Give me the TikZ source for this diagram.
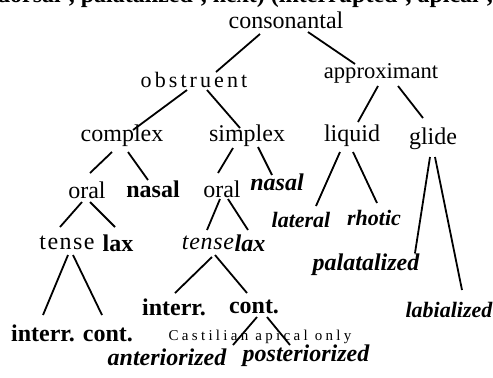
\documentclass[tikz,border=0pt]{standalone}
\usepackage{fontspec}
\setmainfont{Liberation Serif}
\usetikzlibrary{calc}
\begin{document}
\begin{tikzpicture}[x=0.5pt,y=-0.5pt,line width=0.9pt,
  every node/.style={inner sep=0pt,font=\fontsize{12}{14}\selectfont},
  feat/.style={},
  bfeat/.style={font=\fontsize{12}{14}\selectfont\bfseries},
  bifeat/.style={font=\fontsize{12}{14}\selectfont\bfseries\itshape},
  spaced/.style={font=\fontsize{11}{13}\selectfont\addfontfeature{LetterSpace=14}}]
\useasboundingbox (0,0) rectangle (493,377);
% cut-off line above the tree
\begin{scope}
\clip (0,0) rectangle (493,377);
\node[anchor=base west,font=\fontsize{12}{14}\selectfont\bfseries] (cut) at (-4,2) {dorsal', palatalized', next) (interrupted', apical', co};
\end{scope}
% upper levels
\node[feat] (cons) at (286,20) {consonantal};
\node[spaced] (obs) at (194,80) {obstruent};
\node[feat,font=\fontsize{11.3}{13}\selectfont] (appr) at (381,73) {approximant};
\node[feat] (cplx) at (122,136) {complex};
\node[feat] (splx) at (247,136) {simplex};
\node[feat] (liq) at (352,136) {liquid};
\node[feat] (glide) at (433,139) {glide};
% complex branch
\node[feat] (oralA) at (87,190) {oral};
\node[bfeat] (nasA) at (153,189) {nasal};
\node[feat,font=\fontsize{12}{14}\selectfont\addfontfeature{LetterSpace=6}] (tenseA) at (67,243) {tense};
\node[bfeat] (laxA) at (118,243) {lax};
\node[bfeat] (icA) at (72,333) {interr. cont.};
% simplex branch
\node[feat] (oralB) at (222,189) {oral};
\node[bifeat] (nasB) at (277,182) {nasal};
\node[feat,font=\fontsize{12}{14}\selectfont\itshape\addfontfeature{LetterSpace=3}] (tenseB) at (208,243) {tense};
\node[bifeat] (laxB) at (250,243) {lax};
\node[bfeat] (intB) at (174,307) {interr.};
\node[bfeat] (contB) at (254,307) {cont.};
\node[font=\fontsize{7.5}{9}\selectfont\addfontfeature{LetterSpace=22}] (cast) at (260,337) {Castilian apical only};
\node[bifeat] (ant) at (167,357) {anteriorized};
\node[bifeat] (post) at (306,356) {posteriorized};
% approximant branch
\node[bifeat,font=\fontsize{11}{13}\selectfont\bfseries\itshape] (lat) at (301,220) {lateral};
\node[bifeat,font=\fontsize{11}{13}\selectfont\bfseries\itshape] (rho) at (374,218) {rhotic};
\node[bifeat] (pal) at (366,265) {palatalized};
\node[bifeat,font=\fontsize{11}{13}\selectfont\bfseries\itshape] (lab) at (449,310) {labialized};
% branches
\foreach \a/\da/\b/\db in {cons/{-26,14}/obs/{22,-8}, cons/{22,12}/appr/{-26,-9},
    obs/{-7,10}/cplx/{11,-6}, obs/{13,10}/splx/{-7,-8},
    appr/{-3,13}/liq/{6,-14}, appr/{17,13}/glide/{-10,-21},
    cplx/{-10,16}/oralA/{3,-17}, cplx/{6,16}/nasA/{-5,-9},
    splx/{-14,12}/oralB/{-4,-16}, splx/{11,11}/nasB/{-5,-7},
    liq/{-12,16}/lat/{15,-14}, liq/{1,16}/rho/{3,-15},
    glide/{-3,18}/pal/{49,-12}, glide/{2,18}/lab/{13,-20},
    oralA/{-5,12}/tenseA/{-7,-16}, oralA/{3,12}/laxA/{-3,-16},
    oralB/{-2,10}/tenseB/{-1,-13}, oralB/{6,10}/laxB/{-2,-13},
    tenseA/{1,12}/icA/{-29,-18}, tenseA/{6,12}/icA/{30,-18},
    tenseB/{4,14}/intB/{1,-14}, tenseB/{7,12}/contB/{-7,-14},
    contB/{3,10}/ant/{66,-12}, contB/{13,10}/post/{-16,-11}}
  \draw ($(\a)+(\da)$) -- ($(\b)+(\db)$);
\end{tikzpicture}
\end{document}
